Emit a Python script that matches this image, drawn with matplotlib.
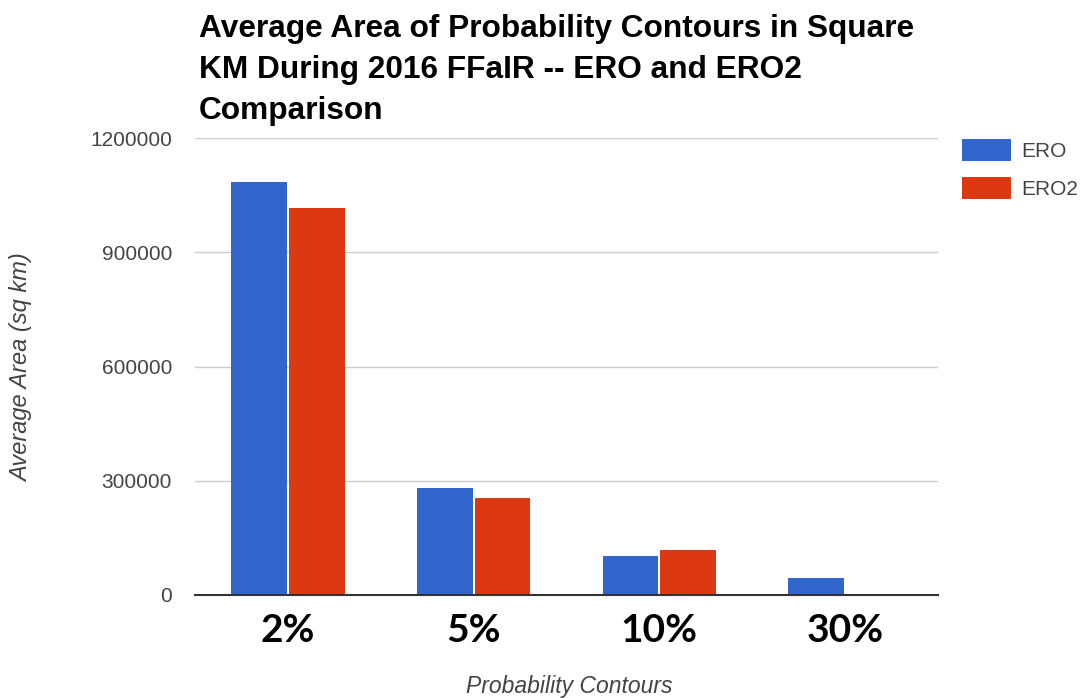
import matplotlib
matplotlib.use("Agg")
import matplotlib.pyplot as plt
import numpy as np

categories = ["2%", "5%", "10%", "30%"]
ero = [1085000, 282000, 103000, 44000]
ero2 = [1015000, 254000, 118000, 0]
series_names = ["ERO", "ERO2"]
yticks = [0, 300000, 600000, 900000, 1200000]

blue = "#3366CC"
red = "#DC3912"

fig = plt.figure(figsize=(10.88, 6.98), dpi=100)
ax = fig.add_axes([195/1088, 1-595/698, (938-195)/1088, (595-138)/698])

x = np.arange(len(categories))
w = 0.30
b1 = ax.bar(x - w/2 - 0.005, ero, width=w, color=blue, label=series_names[0], zorder=3)
b2 = ax.bar(x + w/2 + 0.005, ero2, width=w, color=red, label=series_names[1], zorder=3)

ax.set_xlim(-0.5, len(categories) - 0.5)
ax.set_ylim(0, 1200000)
ax.set_yticks(yticks)
ax.set_yticklabels([str(v) for v in yticks], fontsize=15, color="#444444", family="Liberation Sans")
ax.yaxis.grid(True, color="#cccccc", linewidth=1, zorder=0)
ax.tick_params(axis="y", length=0, pad=16.5)
ax.tick_params(axis="x", length=0, pad=13)
ax.set_xticks(x)
ax.set_xticklabels(categories, fontsize=28, color="black", family="Lato", fontweight="bold")
for s in ["top", "right", "left"]:
    ax.spines[s].set_visible(False)
ax.spines["bottom"].set_color("#333333")
ax.spines["bottom"].set_linewidth(1.5)
ax.spines["bottom"].set_zorder(4)

fig.text(22/1088, 1-368/698, "Average Area (sq km)", rotation=90, ha="center", va="center",
         fontsize=17, style="italic", color="#444444", family="Liberation Sans")
fig.text(569/1088, 1-686/698, "Probability Contours", ha="center", va="center",
         fontsize=16.5, style="italic", color="#444444", family="Liberation Sans")

fig.text(199/1088, 1-14/698,
         "Average Area of Probability Contours in Square\nKM During 2016 FFaIR -- ERO and ERO2\nComparison",
         ha="left", va="top", fontsize=22.8, fontweight="bold", color="black",
         family="Liberation Sans", linespacing=1.47)

leg = fig.legend(handles=[b1, b2], labels=series_names, loc="upper left",
                 bbox_to_anchor=(962/1088, 1-139/698), frameon=False,
                 borderpad=0, borderaxespad=0,
                 handlelength=2.33, handleheight=1.25, handletextpad=0.5, labelspacing=0.78,
                 prop={"family": "Liberation Sans", "size": 15})
for t in leg.get_texts():
    t.set_color("#444444")

fig.savefig("out.png", dpi=100)
